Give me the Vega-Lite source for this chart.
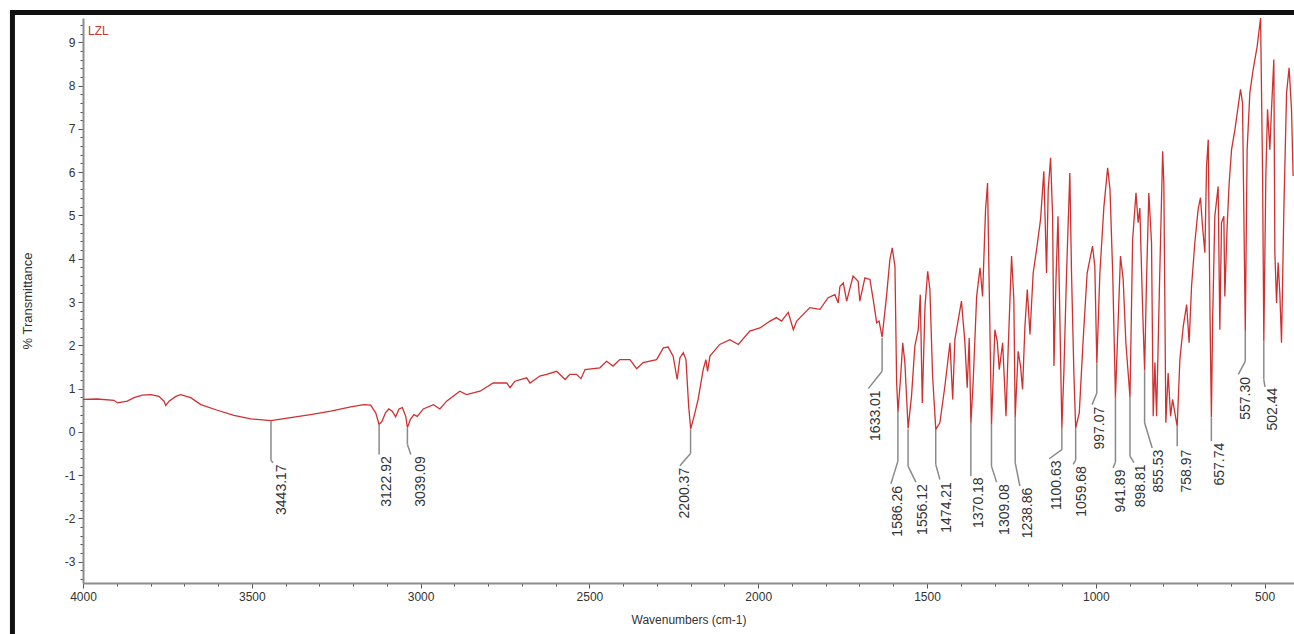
{
  "$schema": "https://vega.github.io/schema/vega-lite/v6.json",
  "width": 1211,
  "height": 565,
  "autosize": {"type": "none"},
  "padding": {"left": 83, "top": 18, "right": 0, "bottom": 51},
  "background": "white",
  "config": {"view": {"stroke": null}, "font": "Liberation Sans"},
  "datasets": {
    "spectrum": [
      {"wn": 4000, "t": 0.75}, {"wn": 3958, "t": 0.76}, {"wn": 3908, "t": 0.73}, {"wn": 3898, "t": 0.67},
      {"wn": 3869, "t": 0.71}, {"wn": 3849, "t": 0.79}, {"wn": 3824, "t": 0.85}, {"wn": 3799, "t": 0.86},
      {"wn": 3775, "t": 0.82}, {"wn": 3760, "t": 0.71}, {"wn": 3755, "t": 0.61}, {"wn": 3745, "t": 0.71},
      {"wn": 3725, "t": 0.82}, {"wn": 3711, "t": 0.86}, {"wn": 3681, "t": 0.79}, {"wn": 3651, "t": 0.63},
      {"wn": 3602, "t": 0.5}, {"wn": 3553, "t": 0.38}, {"wn": 3503, "t": 0.3}, {"wn": 3443, "t": 0.26},
      {"wn": 3385, "t": 0.33}, {"wn": 3326, "t": 0.4}, {"wn": 3266, "t": 0.48}, {"wn": 3207, "t": 0.58},
      {"wn": 3168, "t": 0.63}, {"wn": 3148, "t": 0.62}, {"wn": 3133, "t": 0.44}, {"wn": 3123, "t": 0.17},
      {"wn": 3114, "t": 0.25}, {"wn": 3104, "t": 0.44}, {"wn": 3094, "t": 0.53}, {"wn": 3084, "t": 0.48},
      {"wn": 3074, "t": 0.35}, {"wn": 3064, "t": 0.53}, {"wn": 3054, "t": 0.56}, {"wn": 3044, "t": 0.36},
      {"wn": 3039, "t": 0.1}, {"wn": 3030, "t": 0.29}, {"wn": 3020, "t": 0.4}, {"wn": 3010, "t": 0.36},
      {"wn": 2992, "t": 0.53}, {"wn": 2962, "t": 0.63}, {"wn": 2943, "t": 0.53}, {"wn": 2923, "t": 0.71},
      {"wn": 2884, "t": 0.94}, {"wn": 2864, "t": 0.86}, {"wn": 2824, "t": 0.94}, {"wn": 2785, "t": 1.13},
      {"wn": 2745, "t": 1.13}, {"wn": 2735, "t": 1.02}, {"wn": 2721, "t": 1.17}, {"wn": 2686, "t": 1.25},
      {"wn": 2676, "t": 1.13}, {"wn": 2647, "t": 1.29}, {"wn": 2627, "t": 1.33}, {"wn": 2597, "t": 1.4},
      {"wn": 2572, "t": 1.21}, {"wn": 2558, "t": 1.33}, {"wn": 2538, "t": 1.33}, {"wn": 2525, "t": 1.23},
      {"wn": 2513, "t": 1.44}, {"wn": 2469, "t": 1.48}, {"wn": 2449, "t": 1.63}, {"wn": 2430, "t": 1.52},
      {"wn": 2410, "t": 1.67}, {"wn": 2380, "t": 1.67}, {"wn": 2360, "t": 1.46}, {"wn": 2341, "t": 1.6},
      {"wn": 2301, "t": 1.67}, {"wn": 2281, "t": 1.94}, {"wn": 2267, "t": 1.96}, {"wn": 2252, "t": 1.75},
      {"wn": 2240, "t": 1.21}, {"wn": 2232, "t": 1.71}, {"wn": 2222, "t": 1.83}, {"wn": 2214, "t": 1.67},
      {"wn": 2206, "t": 0.59}, {"wn": 2200, "t": 0.07}, {"wn": 2190, "t": 0.36}, {"wn": 2178, "t": 0.75},
      {"wn": 2163, "t": 1.44}, {"wn": 2155, "t": 1.67}, {"wn": 2150, "t": 1.4}, {"wn": 2143, "t": 1.75},
      {"wn": 2114, "t": 2.02}, {"wn": 2084, "t": 2.13}, {"wn": 2059, "t": 2.02}, {"wn": 2025, "t": 2.33},
      {"wn": 1995, "t": 2.4}, {"wn": 1965, "t": 2.56}, {"wn": 1946, "t": 2.64}, {"wn": 1931, "t": 2.56},
      {"wn": 1911, "t": 2.76}, {"wn": 1896, "t": 2.36}, {"wn": 1886, "t": 2.56}, {"wn": 1847, "t": 2.87},
      {"wn": 1817, "t": 2.83}, {"wn": 1793, "t": 3.1}, {"wn": 1773, "t": 3.17}, {"wn": 1763, "t": 2.98},
      {"wn": 1758, "t": 3.36}, {"wn": 1748, "t": 3.44}, {"wn": 1738, "t": 3.02}, {"wn": 1719, "t": 3.6},
      {"wn": 1704, "t": 3.48}, {"wn": 1699, "t": 3.02}, {"wn": 1684, "t": 3.56}, {"wn": 1669, "t": 3.52},
      {"wn": 1659.5, "t": 3.06}, {"wn": 1649, "t": 2.52}, {"wn": 1642, "t": 2.56}, {"wn": 1633, "t": 2.19},
      {"wn": 1620, "t": 3.13}, {"wn": 1610, "t": 3.98}, {"wn": 1603, "t": 4.25}, {"wn": 1595, "t": 3.83},
      {"wn": 1590, "t": 1.13}, {"wn": 1586, "t": 0.46}, {"wn": 1578, "t": 1.29}, {"wn": 1572, "t": 2.06},
      {"wn": 1565.6, "t": 1.6}, {"wn": 1556, "t": 0.08}, {"wn": 1546, "t": 0.82}, {"wn": 1536, "t": 1.98},
      {"wn": 1526, "t": 2.36}, {"wn": 1520, "t": 3.17}, {"wn": 1514, "t": 0.67}, {"wn": 1506, "t": 2.9},
      {"wn": 1498, "t": 3.71}, {"wn": 1491.5, "t": 3.29}, {"wn": 1483.5, "t": 1.29}, {"wn": 1474, "t": 0.06},
      {"wn": 1462, "t": 0.21}, {"wn": 1447, "t": 1.06}, {"wn": 1432, "t": 2.06}, {"wn": 1424, "t": 0.75},
      {"wn": 1417.5, "t": 2.13}, {"wn": 1398, "t": 3.02}, {"wn": 1388, "t": 2.09}, {"wn": 1381, "t": 1.02},
      {"wn": 1375, "t": 2.17}, {"wn": 1370, "t": 0.2}, {"wn": 1363, "t": 1.21}, {"wn": 1353, "t": 3.13},
      {"wn": 1343, "t": 3.79}, {"wn": 1335.5, "t": 3.13}, {"wn": 1326.6, "t": 5.14}, {"wn": 1320.7, "t": 5.75},
      {"wn": 1316, "t": 3.44}, {"wn": 1309, "t": 0.17}, {"wn": 1299, "t": 2.36}, {"wn": 1292, "t": 2.09},
      {"wn": 1286, "t": 1.44}, {"wn": 1276, "t": 2.06}, {"wn": 1266, "t": 0.36}, {"wn": 1259.6, "t": 1.92},
      {"wn": 1249.6, "t": 4.06}, {"wn": 1242.8, "t": 3.06}, {"wn": 1238.9, "t": 0.34}, {"wn": 1230, "t": 1.86},
      {"wn": 1223, "t": 1.52}, {"wn": 1217, "t": 0.98}, {"wn": 1210, "t": 2.44}, {"wn": 1203, "t": 3.29},
      {"wn": 1195, "t": 2.25}, {"wn": 1185.6, "t": 3.67}, {"wn": 1175.5, "t": 4.21}, {"wn": 1163.7, "t": 4.91},
      {"wn": 1154, "t": 6.02}, {"wn": 1146, "t": 3.67}, {"wn": 1141, "t": 5.6}, {"wn": 1134, "t": 6.33},
      {"wn": 1128, "t": 4.98}, {"wn": 1124, "t": 1.52}, {"wn": 1118, "t": 3.52}, {"wn": 1112, "t": 4.98},
      {"wn": 1108.6, "t": 3.52}, {"wn": 1100.6, "t": 0.09}, {"wn": 1094.7, "t": 1.36}, {"wn": 1086.7, "t": 3.67},
      {"wn": 1077, "t": 5.98}, {"wn": 1072, "t": 3.67}, {"wn": 1065, "t": 1.36}, {"wn": 1059.7, "t": 0.09},
      {"wn": 1049, "t": 0.44}, {"wn": 1037.5, "t": 2.13}, {"wn": 1025.7, "t": 3.67}, {"wn": 1009.7, "t": 4.29},
      {"wn": 1003, "t": 3.83}, {"wn": 997, "t": 1.58}, {"wn": 988, "t": 3.67}, {"wn": 976, "t": 5.21},
      {"wn": 965, "t": 6.1}, {"wn": 958, "t": 5.6}, {"wn": 950, "t": 3.67}, {"wn": 941.9, "t": 0.8},
      {"wn": 934, "t": 2.52}, {"wn": 927, "t": 4.06}, {"wn": 919, "t": 3.52}, {"wn": 911, "t": 2.06},
      {"wn": 898.8, "t": 0.8}, {"wn": 891, "t": 4.44}, {"wn": 881, "t": 5.52}, {"wn": 874.6, "t": 4.83},
      {"wn": 869.6, "t": 5.17}, {"wn": 861.6, "t": 2.9}, {"wn": 855.5, "t": 1.42}, {"wn": 849.8, "t": 3.52},
      {"wn": 843, "t": 5.52}, {"wn": 835, "t": 4.37}, {"wn": 830, "t": 0.36}, {"wn": 825, "t": 1.6},
      {"wn": 820, "t": 0.36}, {"wn": 812, "t": 3.21}, {"wn": 802, "t": 6.48}, {"wn": 798.5, "t": 5.75},
      {"wn": 792.6, "t": 0.21}, {"wn": 785.8, "t": 1.36}, {"wn": 778.6, "t": 0.36}, {"wn": 772.7, "t": 0.75},
      {"wn": 759, "t": 0.13}, {"wn": 751, "t": 1.67}, {"wn": 741, "t": 2.44}, {"wn": 731, "t": 2.94},
      {"wn": 723.6, "t": 2.06}, {"wn": 716.5, "t": 3.36}, {"wn": 706.7, "t": 4.37}, {"wn": 697, "t": 5.14},
      {"wn": 690, "t": 5.41}, {"wn": 684, "t": 4.75}, {"wn": 677, "t": 4.14}, {"wn": 672, "t": 6.14},
      {"wn": 667, "t": 6.75}, {"wn": 662, "t": 2.83}, {"wn": 657.7, "t": 0.33}, {"wn": 654, "t": 2.6},
      {"wn": 647.5, "t": 4.98}, {"wn": 637.7, "t": 5.67}, {"wn": 632.7, "t": 2.36}, {"wn": 627.7, "t": 4.83},
      {"wn": 620.8, "t": 4.98}, {"wn": 617.9, "t": 3.13}, {"wn": 611, "t": 4.75}, {"wn": 605, "t": 5.75},
      {"wn": 598, "t": 6.52}, {"wn": 588, "t": 6.98}, {"wn": 578.4, "t": 7.52}, {"wn": 571.4, "t": 7.91},
      {"wn": 565.5, "t": 7.6}, {"wn": 557.3, "t": 2.33}, {"wn": 551.8, "t": 6.52}, {"wn": 543.8, "t": 7.83},
      {"wn": 534, "t": 8.37}, {"wn": 522, "t": 8.91}, {"wn": 512, "t": 9.56}, {"wn": 506, "t": 5.91},
      {"wn": 502.4, "t": 2.09}, {"wn": 496.4, "t": 5.91}, {"wn": 491.4, "t": 7.45}, {"wn": 484.6, "t": 6.52},
      {"wn": 479.6, "t": 7.45}, {"wn": 472.7, "t": 8.6}, {"wn": 469.7, "t": 4.14}, {"wn": 464.7, "t": 2.98},
      {"wn": 460, "t": 3.91}, {"wn": 455, "t": 3.21}, {"wn": 450, "t": 2.06}, {"wn": 443, "t": 5.14},
      {"wn": 435, "t": 7.83}, {"wn": 427.5, "t": 8.41}, {"wn": 420.4, "t": 7.45}, {"wn": 415.6, "t": 5.91}
    ],
    "peaks": [
      {"label": "3443.17", "wn": 3443.17, "yTop": 0.26, "yBend": -0.66, "xEnd": 3437, "yEnd": -0.71, "xText": 3410, "yText": -0.75},
      {"label": "3122.92", "wn": 3122.92, "yTop": 0.17, "yBend": -0.52, "xEnd": 3122.92, "yEnd": -0.52, "xText": 3100, "yText": -0.56},
      {"label": "3039.09", "wn": 3039.09, "yTop": 0.09, "yBend": -0.29, "xEnd": 3029, "yEnd": -0.52, "xText": 3000, "yText": -0.56},
      {"label": "2200.37", "wn": 2200.37, "yTop": 0.06, "yBend": -0.5, "xEnd": 2232, "yEnd": -0.78, "xText": 2217, "yText": -0.83},
      {"label": "1633.01", "wn": 1633.01, "yTop": 2.17, "yBend": 1.4, "xEnd": 1674, "yEnd": 1.0, "xText": 1651, "yText": 0.96},
      {"label": "1586.26", "wn": 1586.26, "yTop": 0.48, "yBend": -0.68, "xEnd": 1607, "yEnd": -1.2, "xText": 1585, "yText": -1.25},
      {"label": "1556.12", "wn": 1556.12, "yTop": 0.06, "yBend": -0.79, "xEnd": 1533, "yEnd": -1.16, "xText": 1511, "yText": -1.21},
      {"label": "1474.21", "wn": 1474.21, "yTop": 0.06, "yBend": -0.75, "xEnd": 1462, "yEnd": -1.1, "xText": 1442, "yText": -1.16},
      {"label": "1370.18", "wn": 1370.18, "yTop": 0.22, "yBend": -1.02, "xEnd": 1370.18, "yEnd": -1.02, "xText": 1345, "yText": -1.05},
      {"label": "1309.08", "wn": 1309.08, "yTop": 0.19, "yBend": -0.79, "xEnd": 1294, "yEnd": -1.16, "xText": 1269, "yText": -1.21},
      {"label": "1238.86", "wn": 1238.86, "yTop": 0.35, "yBend": -0.71, "xEnd": 1225, "yEnd": -1.25, "xText": 1202, "yText": -1.29},
      {"label": "1100.63", "wn": 1100.63, "yTop": 0.09, "yBend": -0.41, "xEnd": 1138, "yEnd": -0.62, "xText": 1116, "yText": -0.66},
      {"label": "1059.68", "wn": 1059.68, "yTop": 0.09, "yBend": -0.65, "xEnd": 1067, "yEnd": -0.75, "xText": 1042, "yText": -0.79},
      {"label": "997.07", "wn": 997.07, "yTop": 1.58, "yBend": 0.9, "xEnd": 1011, "yEnd": 0.63, "xText": 988, "yText": 0.58},
      {"label": "941.89", "wn": 941.89, "yTop": 0.82, "yBend": -0.7, "xEnd": 949, "yEnd": -0.83, "xText": 924, "yText": -0.87},
      {"label": "898.81", "wn": 898.81, "yTop": 0.82, "yBend": -0.56, "xEnd": 887, "yEnd": -0.71, "xText": 867, "yText": -0.75},
      {"label": "855.53", "wn": 855.53, "yTop": 1.42, "yBend": 0.21, "xEnd": 833, "yEnd": -0.37, "xText": 812, "yText": -0.41},
      {"label": "758.97", "wn": 758.97, "yTop": 0.13, "yBend": -0.33, "xEnd": 758.97, "yEnd": -0.33, "xText": 731, "yText": -0.41},
      {"label": "657.74", "wn": 657.74, "yTop": 0.33, "yBend": -0.21, "xEnd": 657.74, "yEnd": -0.21, "xText": 633, "yText": -0.25},
      {"label": "557.30", "wn": 557.3, "yTop": 2.33, "yBend": 1.63, "xEnd": 578, "yEnd": 1.33, "xText": 556, "yText": 1.27},
      {"label": "502.44", "wn": 502.44, "yTop": 2.09, "yBend": 1.21, "xEnd": 499, "yEnd": 1.04, "xText": 475, "yText": 1.02}
    ],
    "tag": [{"label": "LZL", "wn": 3985, "t": 9.27}]
  },
  "encoding": {
    "x": {
      "type": "quantitative",
      "scale": {"domain": [4000, 413], "nice": false, "zero": false},
      "axis": {
        "values": [4000, 3900, 3800, 3700, 3600, 3500, 3400, 3300, 3200, 3100, 3000, 2900, 2800, 2700, 2600, 2500, 2400, 2300, 2200, 2100, 2000, 1900, 1800, 1700, 1600, 1500, 1400, 1300, 1200, 1100, 1000, 900, 800, 700, 600, 500],
        "labelExpr": "datum.value % 500 === 0 ? '' + datum.value : ''",
        "tickSize": {"condition": {"test": "datum.value % 500 === 0", "value": 5}, "value": 3},
        "title": "Wavenumbers (cm-1)",
        "titleFontSize": 12, "titleFontWeight": "normal", "titleColor": "#333", "titlePadding": 12,
        "labelFontSize": 12, "labelColor": "#333", "labelPadding": 3,
        "labelOverlap": false, "labelFlush": false,
        "domainColor": "#8c8c8c", "domainWidth": 2, "tickColor": "#555", "tickWidth": 1, "grid": false
      }
    },
    "y": {
      "type": "quantitative",
      "scale": {"domain": [-3.49, 9.56], "nice": false, "zero": false},
      "axis": {
        "values": [-3.4, -3.2, -3, -2.8, -2.6, -2.4, -2.2, -2, -1.8, -1.6, -1.4, -1.2, -1, -0.8, -0.6, -0.4, -0.2, 0, 0.2, 0.4, 0.6, 0.8, 1, 1.2, 1.4, 1.6, 1.8, 2, 2.2, 2.4, 2.6, 2.8, 3, 3.2, 3.4, 3.6, 3.8, 4, 4.2, 4.4, 4.6, 4.8, 5, 5.2, 5.4, 5.6, 5.8, 6, 6.2, 6.4, 6.6, 6.8, 7, 7.2, 7.4, 7.6, 7.8, 8, 8.2, 8.4, 8.6, 8.8, 9, 9.2, 9.4],
        "labelExpr": "abs(datum.value - round(datum.value)) < 0.01 ? '' + round(datum.value) : ''",
        "tickSize": {"condition": {"test": "abs(datum.value - round(datum.value)) < 0.01", "value": 5}, "value": 3},
        "title": "% Transmittance",
        "titleFontSize": 13, "titleFontWeight": "normal", "titleColor": "#333", "titlePadding": 30,
        "labelFontSize": 12, "labelColor": "#333", "labelPadding": 3,
        "labelOverlap": false, "labelFlush": false,
        "domainColor": "#8c8c8c", "domainWidth": 2, "tickColor": "#555", "tickWidth": 1, "grid": false
      }
    }
  },
  "layer": [
    {
      "data": {"values": [{}]},
      "mark": {"type": "rule", "color": "#111111", "strokeWidth": 5},
      "encoding": {"x": {"datum": 4216}, "x2": {"datum": 413}, "y": {"datum": 9.686}}
    },
    {
      "data": {"values": [{}]},
      "mark": {"type": "rule", "color": "#111111", "strokeWidth": 5},
      "encoding": {"x": {"datum": 4209}, "y": {"datum": 9.74}, "y2": {"datum": -4.8}}
    },
    {
      "data": {"name": "spectrum"},
      "mark": {"type": "line", "color": "#d03030", "strokeWidth": 1.3, "clip": true},
      "encoding": {"x": {"field": "wn"}, "y": {"field": "t"}}
    },
    {
      "data": {"name": "peaks"},
      "mark": {"type": "rule", "color": "#8a8a8a", "strokeWidth": 1.5},
      "encoding": {"x": {"field": "wn"}, "y": {"field": "yTop"}, "y2": {"field": "yBend"}}
    },
    {
      "data": {"name": "peaks"},
      "mark": {"type": "rule", "color": "#8a8a8a", "strokeWidth": 1.5},
      "encoding": {"x": {"field": "wn"}, "y": {"field": "yBend"}, "x2": {"field": "xEnd"}, "y2": {"field": "yEnd"}}
    },
    {
      "data": {"name": "peaks"},
      "mark": {"type": "text", "angle": 270, "align": "right", "baseline": "middle", "fontSize": 14, "color": "#333"},
      "encoding": {"x": {"field": "xText"}, "y": {"field": "yText"}, "text": {"field": "label"}}
    },
    {
      "data": {"name": "tag"},
      "mark": {"type": "text", "align": "left", "baseline": "middle", "fontSize": 12, "color": "#cc3333"},
      "encoding": {"x": {"field": "wn"}, "y": {"field": "t"}, "text": {"field": "label"}}
    }
  ]
}
